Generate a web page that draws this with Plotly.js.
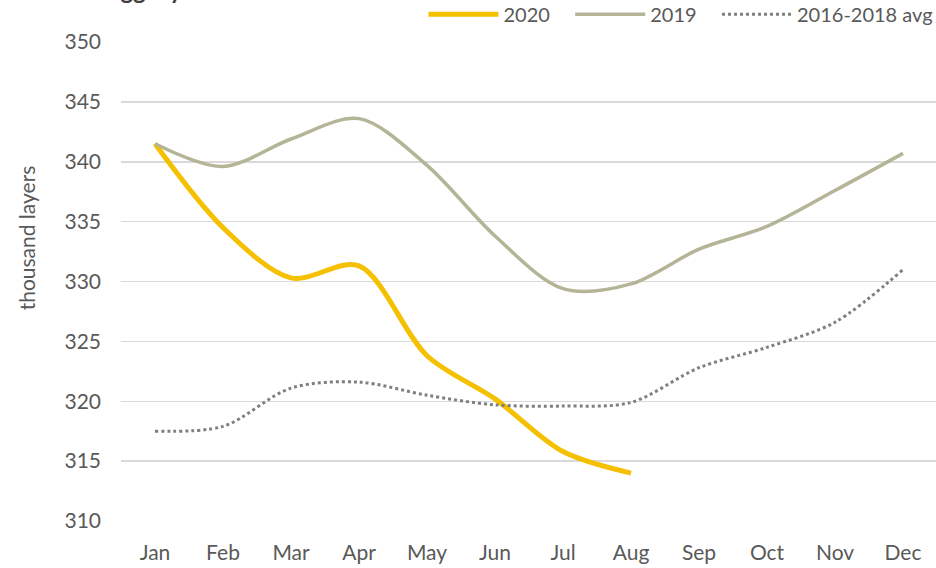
<!DOCTYPE html>
<html>
<head>
<meta charset="utf-8">
<script src="https://cdn.plot.ly/plotly-3.0.1.min.js"></script>
<style>
html,body{margin:0;padding:0;background:#fff;}
#chart{width:936px;height:568px;}
</style>
</head>
<body>
<div id="chart"></div>
<script>
const months = ["Jan","Feb","Mar","Apr","May","Jun","Jul","Aug","Sep","Oct","Nov","Dec"];
const y2020 = [341.5, 334.5, 330.3, 331.3, 323.8, 320.2, 315.8, 314.0];
const y2019 = [341.5, 339.6, 341.9, 343.6, 339.7, 333.8, 329.4, 329.8, 332.7, 334.6, 337.6, 340.7];
const yAvg  = [317.5, 317.9, 321.1, 321.6, 320.5, 319.7, 319.6, 319.9, 322.8, 324.5, 326.6, 331.0];
const seriesNames = ["2020", "2019", "2016-2018 avg"];
const yTicks = [310, 315, 320, 325, 330, 335, 340, 345, 350];

const FONT = "Lato, 'Open Sans', sans-serif";
const GAP = "\u00a0\u00a0\u00a0";

const traces = [
  {x: months.slice(0, y2020.length), y: y2020, name: seriesNames[0] + GAP, type: "scatter", mode: "lines",
   line: {color: "#F5C000", width: 5, shape: "spline", smoothing: 0.9}},
  {x: months, y: y2019, name: seriesNames[1] + GAP, type: "scatter", mode: "lines",
   line: {color: "#B4B497", width: 3.5, shape: "spline", smoothing: 0.9}},
  {x: months, y: yAvg, name: seriesNames[2], type: "scatter", mode: "lines",
   line: {color: "#7F7F7F", width: 3, dash: "dot", shape: "spline", smoothing: 0.9}}
];

const layout = {
  width: 936, height: 568,
  margin: {l: 121, r: 0, t: 42, b: 47, autoexpand: false},
  paper_bgcolor: "#fff", plot_bgcolor: "#fff",
  font: {family: FONT, size: 21, color: "#595959"},
  showlegend: true,
  legend: {orientation: "h", x: 1.003, xanchor: "right", y: 1.058, yanchor: "middle",
           font: {family: FONT, size: 20, color: "#595959"}, itemwidth: 70,
           traceorder: "normal", bgcolor: "rgba(0,0,0,0)"},
  xaxis: {type: "category", categoryarray: months, range: [-0.5, 11.485],
          showgrid: false, zeroline: false, showline: false, ticks: "",
          ticklabelstandoff: 17,
          tickfont: {family: FONT, size: 21, color: "#595959"}, fixedrange: true},
  yaxis: {range: [310, 350], tickvals: yTicks, ticktext: yTicks.map(String),
          showgrid: true, gridcolor: "#D9D9D9", gridwidth: 1.5, zeroline: false,
          showline: false, ticks: "", ticklabelstandoff: 19,
          tickfont: {family: FONT, size: 21, color: "#595959"}, fixedrange: true},
  annotations: [
    {text: "thousand layers", xref: "paper", yref: "paper", x: -0.116, y: 0.591,
     xanchor: "center", yanchor: "middle", textangle: -90, showarrow: false,
     font: {family: FONT, size: 21, color: "#595959"}},
    {text: "<b>Egg layers</b>", xref: "paper", yref: "paper", x: -0.02, y: 1.0755,
     xanchor: "left", yanchor: "bottom", showarrow: false,
     font: {family: FONT, size: 24, color: "#404040"}}
  ]
};

Plotly.newPlot("chart", traces, layout, {displayModeBar: false, staticPlot: true});
</script>
</body>
</html>
